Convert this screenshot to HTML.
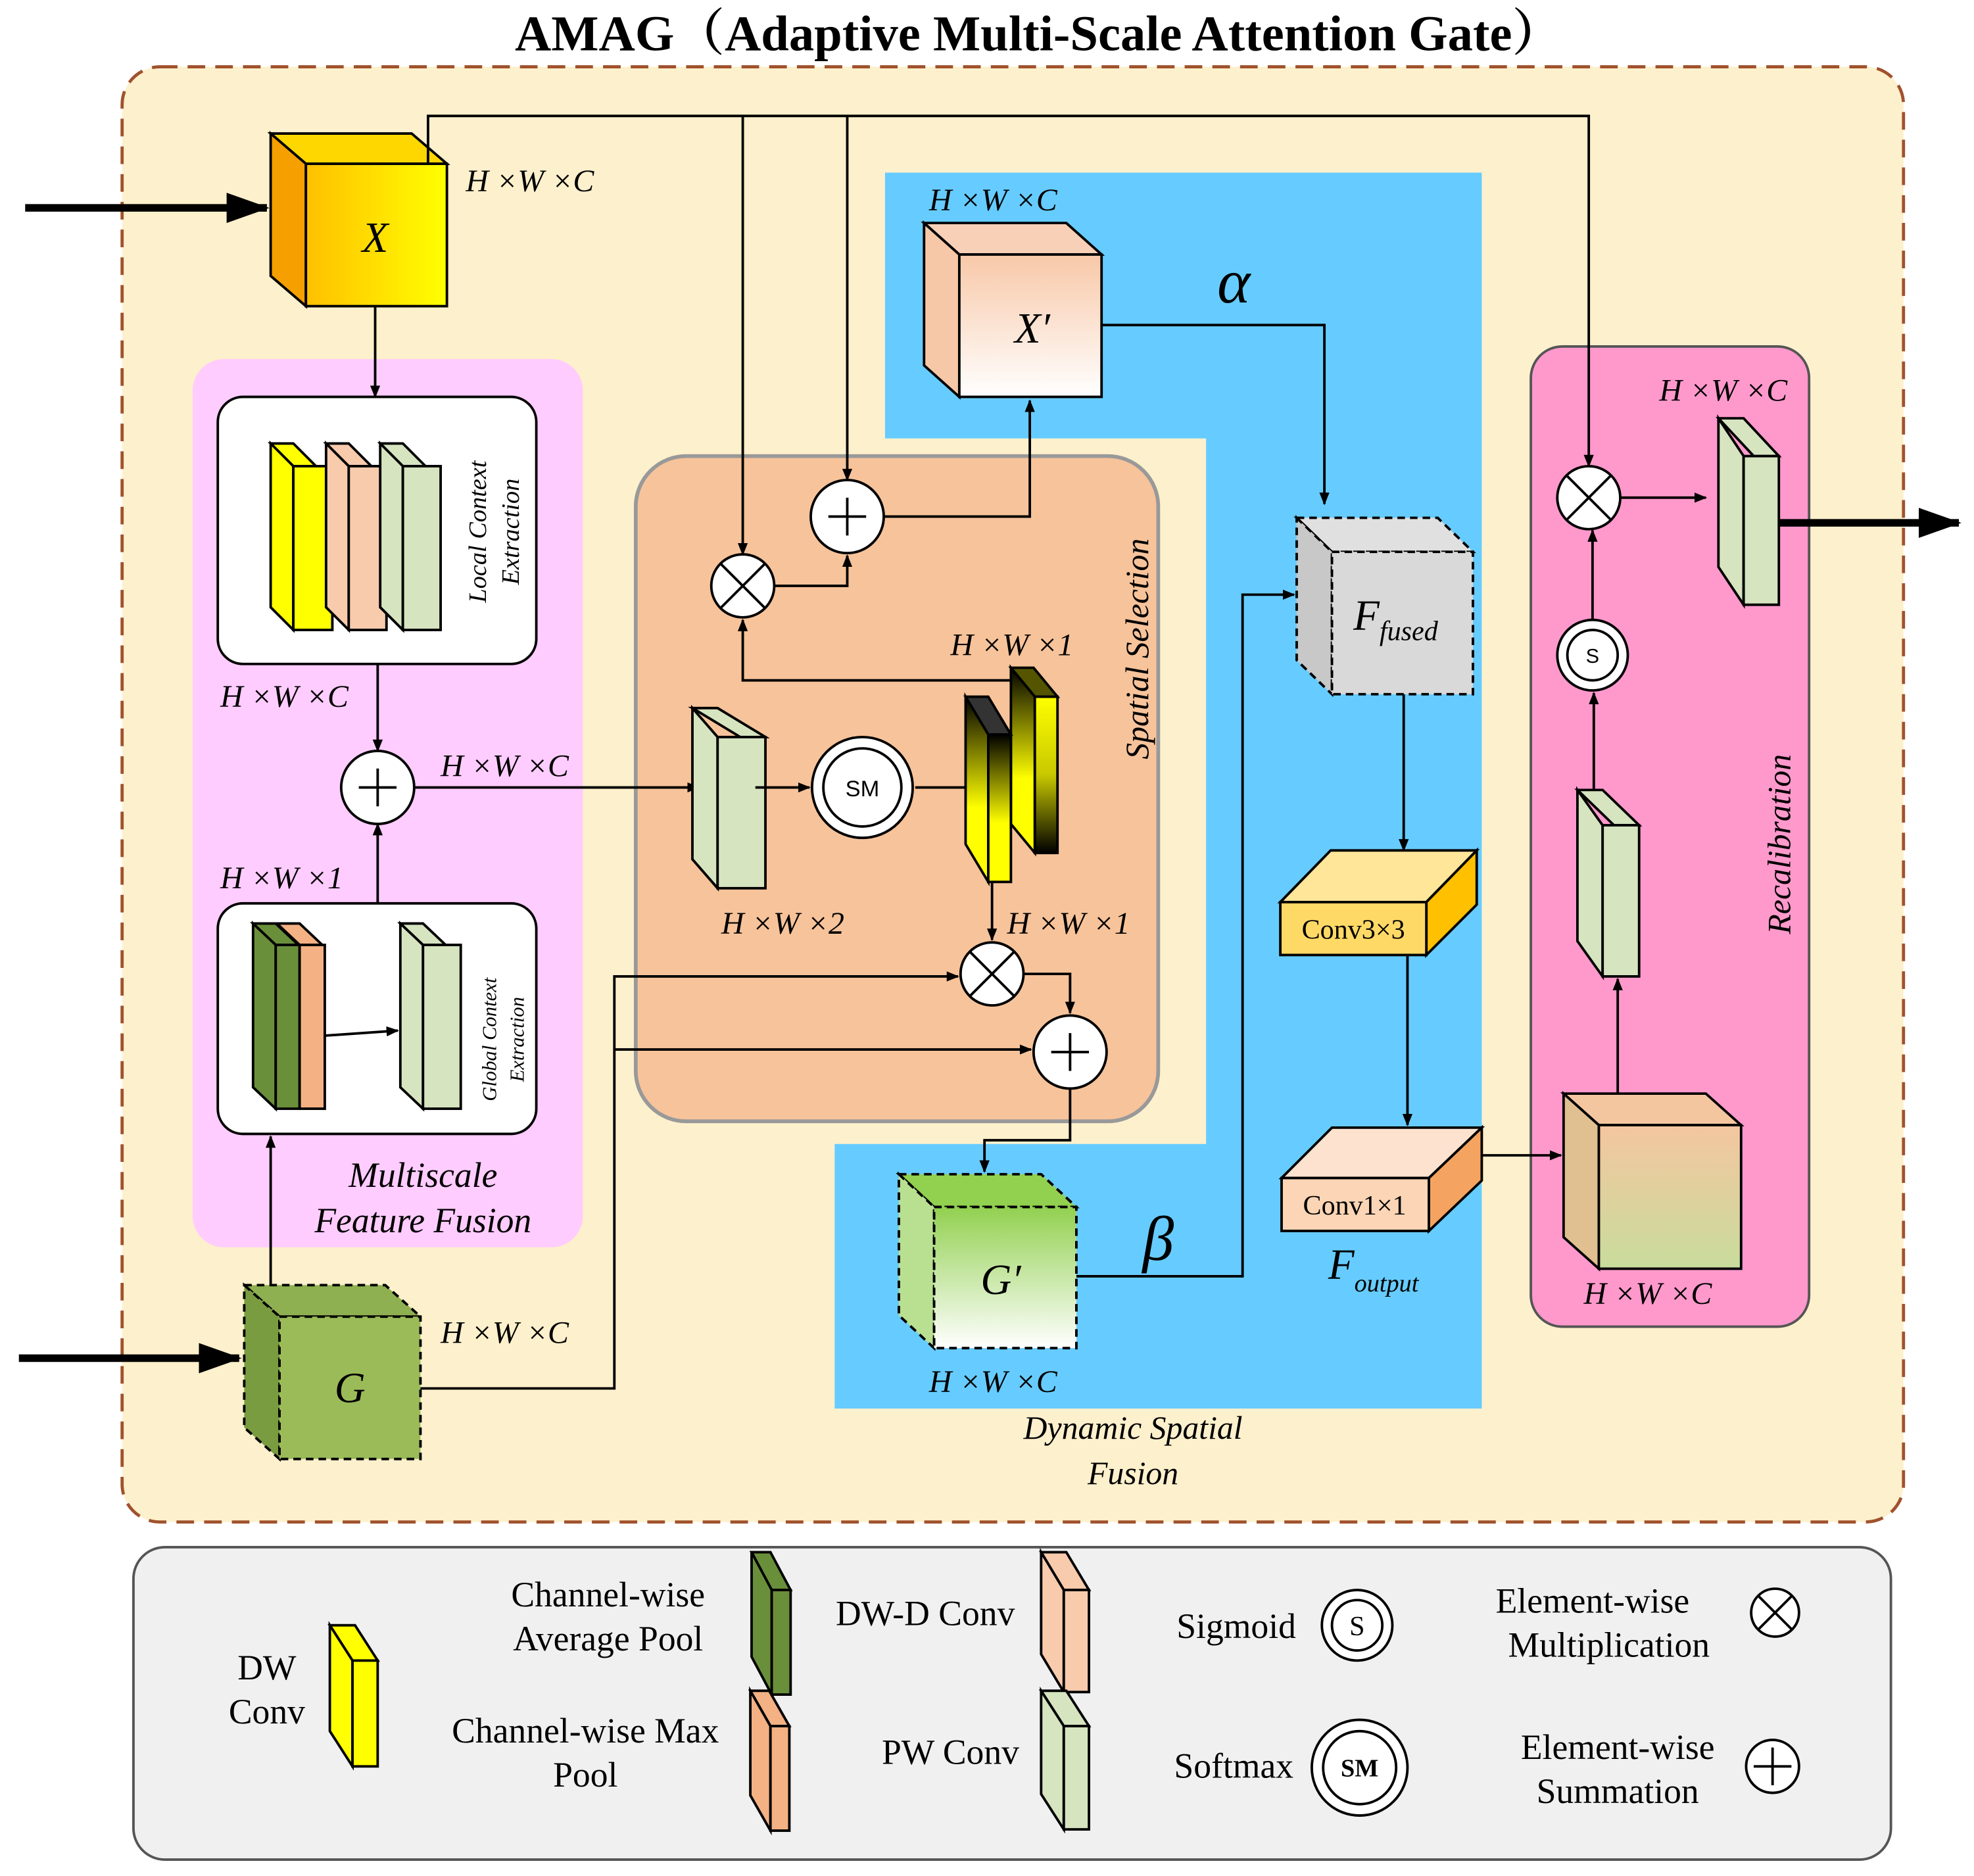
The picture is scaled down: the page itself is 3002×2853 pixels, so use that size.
<!DOCTYPE html>
<html><head><meta charset="utf-8"><style>html,body{margin:0;padding:0;background:#fff}svg{display:block}</style></head><body>
<svg width="3002" height="2853" viewBox="0 0 1568 1489" preserveAspectRatio="none" xmlns="http://www.w3.org/2000/svg" font-family="Liberation Serif, serif">
<defs>
<marker id="a" markerWidth="10" markerHeight="10" refX="9" refY="5" orient="auto" markerUnits="userSpaceOnUse"><path d="M0,1 L10,5 L0,9 Z" fill="#000"/></marker>
<marker id="b" markerWidth="34" markerHeight="24" refX="32" refY="12" orient="auto" markerUnits="userSpaceOnUse"><path d="M0,0 L34,12 L0,24 Z" fill="#000"/></marker>
<linearGradient id="gx" x1="0" x2="1"><stop offset="0" stop-color="#ffc000"/><stop offset="1" stop-color="#ffff00"/></linearGradient>
<linearGradient id="gxp" x1="0" y1="0" x2="0" y2="1"><stop offset="0" stop-color="#f8c8a8"/><stop offset="1" stop-color="#ffffff"/></linearGradient>
<linearGradient id="gg" x1="0" y1="0" x2="0" y2="1"><stop offset="0" stop-color="#92d050"/><stop offset="1" stop-color="#ffffff"/></linearGradient>
<linearGradient id="gf" x1="0" y1="0" x2="0" y2="1"><stop offset="0" stop-color="#f4c6a0"/><stop offset="1" stop-color="#c8dc9c"/></linearGradient>
<linearGradient id="gy" x1="0" y1="0" x2="0" y2="1"><stop offset="0" stop-color="#000"/><stop offset="0.6" stop-color="#ffff00"/><stop offset="1" stop-color="#ffff00"/></linearGradient>
<linearGradient id="gy2" x1="0" y1="0" x2="0" y2="1"><stop offset="0" stop-color="#ffff00"/><stop offset="0.5" stop-color="#c8c800"/><stop offset="1" stop-color="#000"/></linearGradient>
</defs>
<g fill="none" stroke="#000" stroke-width="2">
<text x="825" y="40" font-size="40" font-weight="bold" text-anchor="middle" stroke="none" fill="#000" font-family="Liberation Serif, Noto Serif CJK SC, serif">AMAG（Adaptive Multi-Scale Attention Gate）</text>
<rect x="97" y="53" width="1415" height="1155" rx="30" fill="#fdf0cc" stroke="#a0522d" stroke-width="2.5" stroke-dasharray="14,8"/>
<rect x="106" y="1228" width="1396" height="248" rx="25" fill="#f0f0f0" stroke="#555"/>
<rect x="153" y="285" width="310" height="705" rx="25" fill="#ffccff" stroke="none"/>
<rect x="505" y="362" width="415" height="528" rx="40" fill="#f7c39a" stroke="#999" stroke-width="3"/>
<polygon points="703,137 1177,137 1177,1118 663,1118 663,908 958,908 958,348 703,348" fill="#66ccff" stroke="none"/>
<rect x="1216" y="275" width="221" height="778" rx="25" fill="#ff99cc" stroke="#555"/>
<rect x="173" y="315" width="253" height="212" rx="20" fill="#fff"/>
<rect x="173" y="717" width="253" height="183" rx="20" fill="#fff"/>

<polygon points="215,106 327,106 355,130 243,130" fill="#ffd700"/>
<polygon points="215,106 243,130 243,243 215,219" fill="#f5a000"/>
<rect x="243" y="130" width="112" height="113" fill="url(#gx)"/>
<polygon points="215,352 233,352 251,370 233,370" fill="#ffff00"/><polygon points="215,352 233,370 233,500 215,482" fill="#ffff00"/><rect x="233" y="370" width="31" height="130" fill="#ffff00"/>
<polygon points="259,352 277,352 295,370 277,370" fill="#f8cbad"/><polygon points="259,352 277,370 277,500 259,482" fill="#f8cbad"/><rect x="277" y="370" width="30" height="130" fill="#f8cbad"/>
<polygon points="302,352 320,352 338,370 320,370" fill="#d6e4c0"/><polygon points="302,352 320,370 320,500 302,482" fill="#d6e4c0"/><rect x="320" y="370" width="30" height="130" fill="#d6e4c0"/>
<polygon points="201,733 219,733 237,750 219,750" fill="#6a8f3a"/><polygon points="201,733 219,750 219,880 201,863" fill="#6a8f3a"/><rect x="219" y="750" width="19" height="130" fill="#6a8f3a"/>
<polygon points="220,733 238,733 256,750 238,750" fill="#f4b183"/><rect x="238" y="750" width="20" height="130" fill="#f4b183"/>
<polygon points="318,733 336,733 354,750 336,750" fill="#d6e4c0"/><polygon points="318,733 336,750 336,880 318,863" fill="#d6e4c0"/><rect x="336" y="750" width="30" height="130" fill="#d6e4c0"/>
<line x1="258" y1="822" x2="316" y2="818" marker-end="url(#a)"/>
<g stroke-dasharray="6,4"><polygon points="194,1020 306,1020 334,1045 222,1045" fill="#8fb050"/><polygon points="194,1020 222,1045 222,1158 194,1133" fill="#7a9c40"/><rect x="222" y="1045" width="112" height="113" fill="#9bbb59"/></g>

<line x1="20" y1="165" x2="212" y2="165" stroke-width="6" marker-end="url(#b)"/>
<line x1="15" y1="1078" x2="190" y2="1078" stroke-width="6" marker-end="url(#b)"/>
<line x1="298" y1="243" x2="298" y2="315" marker-end="url(#a)"/>
<line x1="300" y1="527" x2="300" y2="596" marker-end="url(#a)"/>
<line x1="300" y1="717" x2="300" y2="654" marker-end="url(#a)"/>
<line x1="215" y1="1020" x2="215" y2="902" marker-end="url(#a)"/>
<circle cx="300" cy="625" r="29" fill="#fff"/><path d="M285,625h30M300,610v30"/>
<line x1="329" y1="625" x2="555" y2="625" marker-end="url(#a)"/>
<polyline points="340,130 340,92 1262,92 1262,370" marker-end="url(#a)"/>
<line x1="590" y1="92" x2="590" y2="440" marker-end="url(#a)"/>
<line x1="673" y1="92" x2="673" y2="381" marker-end="url(#a)"/>

<polygon points="550,562 570,562 608,585 588,585" fill="#d6e4c0"/><polygon points="550,562 570,585 570,705 550,682" fill="#d6e4c0"/><rect x="570" y="585" width="38" height="120" fill="#d6e4c0"/>
<line x1="600" y1="625" x2="643" y2="625" marker-end="url(#a)"/>
<circle cx="685" cy="625" r="40" fill="#fff"/><circle cx="685" cy="625" r="31"/>
<line x1="727" y1="625" x2="782" y2="625" marker-end="url(#a)"/>
<polygon points="803,530 822,553 840,553 821,530" fill="#555500"/><polygon points="803,530 822,553 822,677 803,654" fill="url(#gy)"/><rect x="822" y="553" width="18" height="124" fill="url(#gy2)"/>
<polygon points="767,553 785,583 803,583 785,553" fill="#333"/><polygon points="767,553 785,583 785,700 767,670" fill="url(#gy)"/><rect x="785" y="583" width="18" height="117" fill="url(#gy)"/>
<polyline points="803,540 590,540 590,492" marker-end="url(#a)"/>
<circle cx="590" cy="465" r="25" fill="#fff"/><path d="M572,447l36,36M608,447l-36,36"/>
<polyline points="615,465 673,465 673,441" marker-end="url(#a)"/>
<circle cx="673" cy="410" r="29" fill="#fff"/><path d="M658,410h30M673,395v30"/>
<polyline points="702,410 818,410 818,318" marker-end="url(#a)"/>
<line x1="788" y1="700" x2="788" y2="746" marker-end="url(#a)"/>
<circle cx="788" cy="773" r="25" fill="#fff"/><path d="M770,755l36,36M806,755l-36,36"/>
<polyline points="334,1102 488,1102 488,775 761,775" marker-end="url(#a)"/>
<line x1="488" y1="833" x2="819" y2="833" marker-end="url(#a)"/>
<polyline points="813,773 850,773 850,804" marker-end="url(#a)"/>
<circle cx="850" cy="835" r="29" fill="#fff"/><path d="M835,835h30M850,820v30"/>
<polyline points="850,864 850,905 782,905 782,930" marker-end="url(#a)"/>

<polygon points="734,177 847,177 875,202 762,202" fill="#f8d0b8"/><polygon points="734,177 762,202 762,315 734,290" fill="#f6c8a8"/><rect x="762" y="202" width="113" height="113" fill="url(#gxp)"/>
<polyline points="875,258 1052,258 1052,400" marker-end="url(#a)"/>
<g stroke-dasharray="6,4"><polygon points="1030,411 1142,411 1170,438 1058,438" fill="#e0e0e0"/><polygon points="1030,411 1058,438 1058,551 1030,524" fill="#c8c8c8"/><rect x="1058" y="438" width="112" height="113" fill="#d9d9d9"/></g>
<line x1="1115" y1="551" x2="1115" y2="675" marker-end="url(#a)"/>
<polygon points="1017,716 1057,675 1173,675 1133,716" fill="#ffe699"/><polygon points="1133,716 1173,675 1173,718 1133,758" fill="#ffc000"/><rect x="1017" y="716" width="116" height="42" fill="#ffd966"/>
<line x1="1118" y1="758" x2="1118" y2="893" marker-end="url(#a)"/>
<polygon points="1018,935 1058,895 1177,895 1135,935" fill="#fde3cf"/><polygon points="1135,935 1177,895 1177,937 1135,977" fill="#f4a460"/><rect x="1018" y="935" width="117" height="42" fill="#fbd5b5"/>
<line x1="1177" y1="917" x2="1240" y2="917" marker-end="url(#a)"/>
<g stroke-dasharray="6,4"><polygon points="714,932 827,932 855,958 742,958" fill="#92d050"/><polygon points="714,932 742,958 742,1070 714,1044" fill="#b8e090"/><rect x="742" y="958" width="113" height="112" fill="url(#gg)"/></g>
<polyline points="855,1013 987,1013 987,472 1028,472" marker-end="url(#a)"/>

<polygon points="1242,868 1355,868 1383,893 1270,893" fill="#f4c6a0"/><polygon points="1242,868 1270,893 1270,1007 1242,982" fill="#e0c090"/><rect x="1270" y="893" width="113" height="114" fill="url(#gf)"/>
<line x1="1285" y1="868" x2="1285" y2="777" marker-end="url(#a)"/>
<polygon points="1253,627 1273,627 1302,655 1282,655" fill="#d6e4c0"/><polygon points="1253,627 1273,655 1273,775 1253,747" fill="#d6e4c0"/><rect x="1273" y="655" width="29" height="120" fill="#d6e4c0"/>
<line x1="1266" y1="627" x2="1266" y2="550" marker-end="url(#a)"/>
<circle cx="1265" cy="520" r="28" fill="#fff"/><circle cx="1265" cy="520" r="20"/>
<line x1="1265" y1="492" x2="1265" y2="421" marker-end="url(#a)"/>
<circle cx="1262" cy="395" r="25" fill="#fff"/><path d="M1244,377l36,36M1280,377l-36,36"/>
<line x1="1287" y1="395" x2="1355" y2="395" marker-end="url(#a)"/>
<polygon points="1365,332 1385,332 1413,362 1393,362" fill="#d6e4c0"/><polygon points="1365,332 1385,362 1385,480 1365,450" fill="#d6e4c0"/><rect x="1385" y="362" width="28" height="118" fill="#d6e4c0"/>
<line x1="1413" y1="415" x2="1556" y2="415" stroke-width="6" marker-end="url(#b)"/>

<polygon points="262,1290 280,1318 300,1318 282,1290" fill="#ffff00"/><polygon points="262,1290 280,1318 280,1402 262,1374" fill="#ffff00"/><rect x="280" y="1318" width="20" height="84" fill="#ffff00"/>
<polygon points="597,1232 613,1262 628,1262 612,1232" fill="#6a8f3a"/><polygon points="597,1232 613,1262 613,1345 597,1315" fill="#6a8f3a"/><rect x="613" y="1262" width="15" height="83" fill="#6a8f3a"/>
<polygon points="596,1342 612,1370 627,1370 611,1342" fill="#f4b183"/><polygon points="596,1342 612,1370 612,1453 596,1425" fill="#f4b183"/><rect x="612" y="1370" width="15" height="83" fill="#f4b183"/>
<polygon points="827,1232 845,1262 865,1262 847,1232" fill="#f8cbad"/><polygon points="827,1232 845,1262 845,1343 827,1313" fill="#f8cbad"/><rect x="845" y="1262" width="20" height="81" fill="#f8cbad"/>
<polygon points="827,1342 845,1370 865,1370 847,1342" fill="#d6e4c0"/><polygon points="827,1342 845,1370 845,1452 827,1424" fill="#d6e4c0"/><rect x="845" y="1370" width="20" height="82" fill="#d6e4c0"/>
<circle cx="1078" cy="1290" r="28" fill="#fff"/><circle cx="1078" cy="1290" r="20"/>
<circle cx="1080" cy="1403" r="38" fill="#fff"/><circle cx="1080" cy="1403" r="29"/>
<circle cx="1410" cy="1280" r="19" fill="#fff"/><path d="M1397,1267l26,26M1423,1267l-26,26"/>
<circle cx="1408" cy="1402" r="21" fill="#fff"/><path d="M1393,1402h30M1408,1387v30"/>
</g>

<g fill="#000" font-style="italic" font-size="25">
<text x="370" y="152">H ×W ×C</text>
<text x="175" y="561">H ×W ×C</text>
<text x="350" y="616">H ×W ×C</text>
<text x="175" y="705">H ×W ×1</text>
<text x="350" y="1066">H ×W ×C</text>
<text x="755" y="520">H ×W ×1</text>
<text x="573" y="741">H ×W ×2</text>
<text x="800" y="741">H ×W ×1</text>
<text x="738" y="167">H ×W ×C</text>
<text x="738" y="1105">H ×W ×C</text>
<text x="1318" y="318">H ×W ×C</text>
<text x="1258" y="1035">H ×W ×C</text>
<text x="298" y="200" font-size="34" text-anchor="middle">X</text>
<text x="278" y="1113" font-size="34" text-anchor="middle">G</text>
<text x="820" y="272" font-size="34" text-anchor="middle">X′</text>
<text x="795" y="1027" font-size="34" text-anchor="middle">G′</text>
<text x="1075" y="500" font-size="34">F<tspan font-size="22" dy="8">fused</tspan></text>
<text x="1055" y="1015" font-size="34">F<tspan font-size="20" dy="10">output</tspan></text>
<text x="980" y="240" font-size="50" text-anchor="middle">α</text>
<text x="920" y="1000" font-size="50" text-anchor="middle">β</text>
<text x="336" y="942" font-size="28" text-anchor="middle">Multiscale</text>
<text x="336" y="978" font-size="28" text-anchor="middle">Feature Fusion</text>
<text x="900" y="1142" font-size="26" text-anchor="middle">Dynamic Spatial</text>
<text x="900" y="1178" font-size="26" text-anchor="middle">Fusion</text>
<text transform="translate(912,515) rotate(-90)" font-size="26" text-anchor="middle">Spatial Selection</text>
<text transform="translate(1422,670) rotate(-90)" font-size="26" text-anchor="middle">Recalibration</text>
<text transform="translate(386,422) rotate(-90)" font-size="20" text-anchor="middle">Local Context</text>
<text transform="translate(412,422) rotate(-90)" font-size="20" text-anchor="middle">Extraction</text>
<text transform="translate(394,825) rotate(-90)" font-size="16" text-anchor="middle">Global Context</text>
<text transform="translate(416,825) rotate(-90)" font-size="16" text-anchor="middle">Extraction</text>
</g>
<g fill="#000" font-size="28" text-anchor="middle">
<text x="685" y="632" font-size="18" font-family="Liberation Sans, sans-serif">SM</text>
<text x="1265" y="526" font-size="16" font-family="Liberation Sans, sans-serif">S</text>
<text x="1075" y="745" font-size="22">Conv3×3</text>
<text x="1076" y="964" font-size="22">Conv1×1</text>
<text x="212" y="1333">DW</text><text x="212" y="1368">Conv</text>
<text x="483" y="1275">Channel-wise</text><text x="483" y="1310">Average Pool</text>
<text x="465" y="1383">Channel-wise Max</text><text x="465" y="1418">Pool</text>
<text x="735" y="1290">DW-D Conv</text>
<text x="755" y="1400">PW Conv</text>
<text x="982" y="1300">Sigmoid</text>
<text x="980" y="1411">Softmax</text>
<text x="1265" y="1280">Element-wise</text><text x="1278" y="1315">Multiplication</text>
<text x="1285" y="1396">Element-wise</text><text x="1285" y="1431">Summation</text>
<text x="1078" y="1298" font-size="22">S</text>
<text x="1080" y="1410" font-size="20" font-weight="bold">SM</text>
</g>
</svg>
</body></html>
